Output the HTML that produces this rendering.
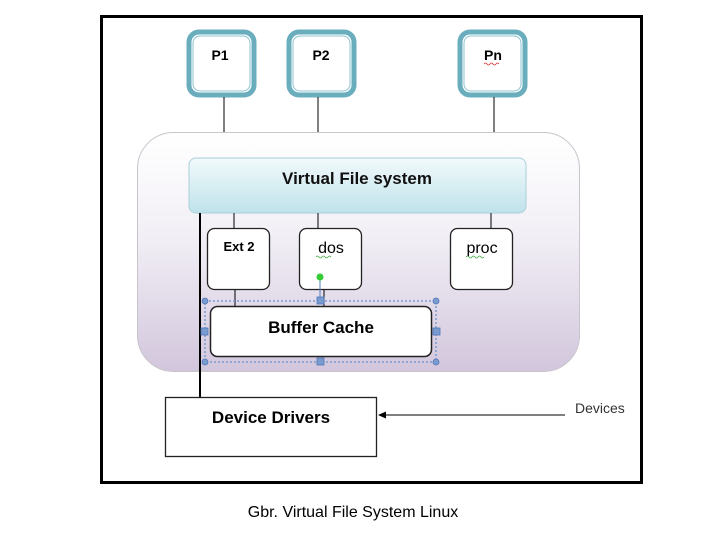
<!DOCTYPE html>
<html><head><meta charset="utf-8"><style>
html,body{margin:0;padding:0;background:#fff;width:720px;height:540px;overflow:hidden}
svg{display:block}
text{font-family:"Liberation Sans",sans-serif}
</style></head><body>
<svg width="720" height="540" viewBox="0 0 720 540" xmlns="http://www.w3.org/2000/svg">
<defs>
<linearGradient id="bg" x1="0" y1="0" x2="0" y2="1">
<stop offset="0" stop-color="#ffffff"/><stop offset="0.45" stop-color="#f1eef5"/><stop offset="1" stop-color="#d2c6dc"/>
</linearGradient>
<linearGradient id="vfs" x1="0" y1="0" x2="0" y2="1">
<stop offset="0" stop-color="#f2fafc"/><stop offset="1" stop-color="#bfe2ea"/>
</linearGradient>
</defs>
<rect x="101.5" y="16.5" width="540" height="466" fill="#fff" stroke="#000" stroke-width="3"/>
<!-- P boxes -->
<g>
<rect x="189" y="32" width="65" height="63" rx="10" fill="#fff" stroke="#6aaebe" stroke-width="5"/>
<rect x="193" y="36" width="57" height="55" rx="7" fill="#fff" stroke="#8cc3d0" stroke-width="1"/>
<rect x="289" y="32" width="65" height="63" rx="10" fill="#fff" stroke="#6aaebe" stroke-width="5"/>
<rect x="293" y="36" width="57" height="55" rx="7" fill="#fff" stroke="#8cc3d0" stroke-width="1"/>
<rect x="460" y="32" width="65" height="63" rx="10" fill="#fff" stroke="#6aaebe" stroke-width="5"/>
<rect x="464" y="36" width="57" height="55" rx="7" fill="#fff" stroke="#8cc3d0" stroke-width="1"/>
<text x="220" y="60" font-size="14" font-weight="bold" text-anchor="middle">P1</text>
<text x="321" y="60" font-size="14" font-weight="bold" text-anchor="middle">P2</text>
<text x="493" y="60" font-size="14" font-weight="bold" text-anchor="middle">Pn</text>
<path d="M484 64 q1.5 -2 3 0 t3 0 t3 0 t3 0 t3 0" fill="none" stroke="#d33" stroke-width="0.8"/>
</g>
<line x1="224" y1="97" x2="224" y2="132" stroke="#000"/>
<line x1="318" y1="97" x2="318" y2="132" stroke="#000"/>
<line x1="494" y1="97" x2="494" y2="132" stroke="#000"/>
<!-- big container -->
<rect x="137.5" y="132.5" width="442" height="239" rx="36" fill="url(#bg)" stroke="#c8c4cc" stroke-width="1"/>
<rect x="189" y="158" width="337" height="55" rx="7" fill="url(#vfs)" stroke="#a9d0d9" stroke-width="1"/>
<text x="357" y="184" font-size="17" font-weight="bold" text-anchor="middle" fill="#111">Virtual File system</text>
<line x1="200" y1="213" x2="200" y2="398" stroke="#000" stroke-width="2"/>
<line x1="234" y1="213" x2="234" y2="228" stroke="#000"/>
<line x1="318" y1="213" x2="318" y2="228" stroke="#000"/>
<line x1="491" y1="213" x2="491" y2="228" stroke="#000"/>
<rect x="207.5" y="228.5" width="62" height="61" rx="7" fill="#fff" stroke="#222" stroke-width="1.3"/>
<rect x="299.5" y="228.5" width="62" height="61" rx="7" fill="#fff" stroke="#222" stroke-width="1.3"/>
<rect x="450.5" y="228.5" width="62" height="61" rx="7" fill="#fff" stroke="#222" stroke-width="1.3"/>
<text x="239" y="251" font-size="13" font-weight="bold" text-anchor="middle">Ext 2</text>
<text x="331" y="253" font-size="16" text-anchor="middle">dos</text>
<text x="482" y="253" font-size="16" text-anchor="middle">proc</text>
<path d="M316 257 q1.5 -2 3 0 t3 0 t3 0 t3 0 t3 0" fill="none" stroke="#4a4" stroke-width="0.8"/>
<path d="M466 257 q1.5 -2 3 0 t3 0 t3 0 t3 0 t3 0 t3 0" fill="none" stroke="#4a4" stroke-width="0.8"/>
<line x1="235" y1="290" x2="235" y2="306" stroke="#000"/>
<line x1="324" y1="290" x2="324" y2="306" stroke="#000"/>
<line x1="320" y1="278" x2="320" y2="300" stroke="#5580c0"/>
<circle cx="320" cy="277" r="3.5" fill="#3c3"/>
<!-- selection frame -->
<rect x="205" y="301" width="231" height="61" fill="none" stroke="#7a9bd0" stroke-width="1.5" stroke-dasharray="2,2"/>
<rect x="210.5" y="306.5" width="221" height="50" rx="7" fill="#fff" stroke="#222" stroke-width="1.5"/>
<text x="321" y="333" font-size="17" font-weight="bold" text-anchor="middle">Buffer Cache</text>
<g fill="#7a9bd0" stroke="#4f76b8" stroke-width="0.8">
<circle cx="205" cy="301" r="3"/><circle cx="436" cy="301" r="3"/><circle cx="205" cy="362" r="3"/><circle cx="436" cy="362" r="3"/>
<rect x="317" y="297" width="7" height="7"/><rect x="317" y="358" width="7" height="7"/>
<rect x="201" y="328" width="7" height="7"/><rect x="433" y="328" width="7" height="7"/>
</g>
<!-- device drivers -->
<rect x="165.5" y="397.5" width="211" height="59" fill="#fff" stroke="#222" stroke-width="1.3"/>
<text x="271" y="423" font-size="17" font-weight="bold" text-anchor="middle">Device Drivers</text>
<line x1="384" y1="415" x2="565" y2="415" stroke="#000"/>
<path d="M378 415 L386 411.5 L386 418.5 Z" fill="#000"/>
<text x="575" y="413" font-size="14" fill="#333">Devices</text>
<text x="353" y="517" font-size="16" text-anchor="middle" fill="#000">Gbr. Virtual File System Linux</text>
</svg>
</body></html>
